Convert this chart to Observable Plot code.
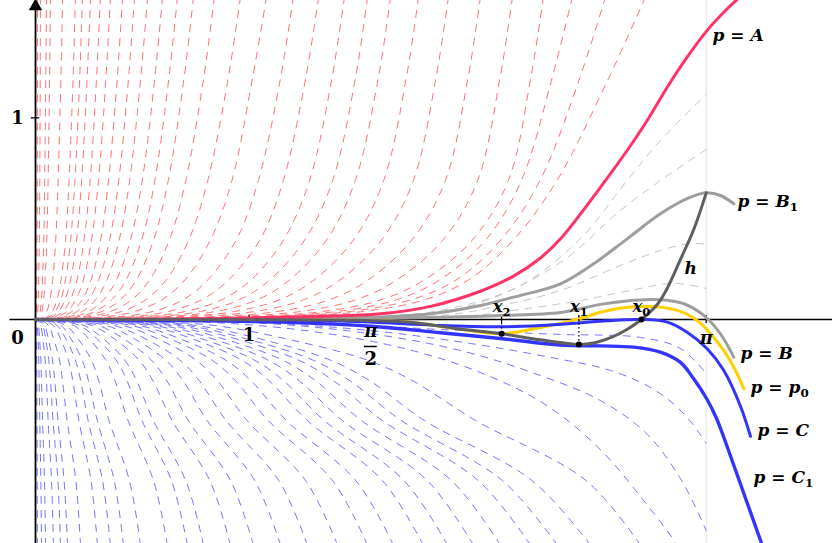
<!DOCTYPE html>
<html>
<head>
<meta charset="utf-8">
<script src="https://cdn.jsdelivr.net/npm/d3@7"></script>
<script src="https://cdn.jsdelivr.net/npm/@observablehq/plot@0.6"></script>
<style>
  html, body { margin: 0; padding: 0; background: #fff; }
  #chart svg { display: block; }
</style>
</head>
<body>
<div id="chart"></div>
<script>
// ---------- data (x in radians, y in function units) ----------
// red dashed family: x reached at each y level
const redLevels = [1.6, 1.2, 0.69, 0.4, 0.2, 0.1, 0.04, 0.01, 0];
const redCurves = [
  [0.009,0.009,0.008,0.007,0.006,0.005,0.004,0.003,0],
  [0.023,0.022,0.020,0.018,0.015,0.013,0.010,0.006,0],
  [0.052,0.048,0.043,0.039,0.033,0.028,0.022,0.014,0],
  [0.070,0.066,0.059,0.053,0.045,0.038,0.030,0.019,0],
  [0.127,0.119,0.106,0.095,0.081,0.068,0.053,0.034,0],
  [0.187,0.176,0.157,0.141,0.120,0.101,0.079,0.051,0],
  [0.220,0.207,0.185,0.165,0.141,0.119,0.092,0.059,0],
  [0.258,0.242,0.216,0.193,0.165,0.139,0.108,0.070,0],
  [0.304,0.286,0.256,0.228,0.195,0.164,0.128,0.082,0],
  [0.351,0.330,0.295,0.263,0.225,0.190,0.148,0.095,0],
  [0.408,0.383,0.342,0.306,0.261,0.220,0.171,0.110,0],
  [0.464,0.436,0.390,0.348,0.297,0.250,0.195,0.125,0],
  [0.525,0.493,0.441,0.393,0.336,0.283,0.220,0.142,0],
  [0.595,0.559,0.500,0.446,0.381,0.321,0.250,0.161,0],
  [0.665,0.625,0.559,0.499,0.426,0.359,0.279,0.180,0],
  [0.740,0.696,0.622,0.555,0.474,0.400,0.311,0.200,0],
  [0.838,0.788,0.704,0.629,0.537,0.453,0.352,0.226,0],
  [0.960,0.903,0.807,0.720,0.615,0.519,0.403,0.259,0],
  [1.082,1.017,0.920,0.822,0.703,0.595,0.465,0.303,0],
  [1.208,1.148,1.044,0.943,0.810,0.695,0.550,0.356,0],
  [1.326,1.266,1.161,1.054,0.908,0.782,0.623,0.404,0],
  [1.447,1.389,1.284,1.165,1.013,0.876,0.702,0.449,0],
  [1.555,1.499,1.392,1.264,1.101,0.959,0.773,0.491,0],
  [1.663,1.606,1.498,1.367,1.194,1.044,0.845,0.540,0],
  [1.794,1.737,1.631,1.493,1.310,1.148,0.933,0.601,0],
  [1.934,1.876,1.770,1.625,1.431,1.261,1.029,0.667,0],
  [2.084,2.026,1.920,1.767,1.563,1.382,1.136,0.740,0],
  [2.234,2.176,2.071,1.913,1.698,1.506,1.244,0.815,0],
  [2.379,2.320,2.215,2.051,1.827,1.625,1.349,0.892,0],
  [2.515,2.420,2.276,2.113,1.899,1.698,1.414,0.943,0],
  [2.670,2.550,2.363,2.184,1.976,1.767,1.476,0.993,0],
  [2.857,2.686,2.443,2.243,2.034,1.829,1.537,1.043,0]
];
// blue dashed family: x reached at each y level
const blueLevels = [-1.12, -0.8, -0.5, -0.3, -0.2, -0.1, -0.03, -0.008, 0];
const blueCurves = [
  [0.009,0.008,0.007,0.006,0.005,0.004,0.003,0.0015,0],
  [0.028,0.025,0.020,0.017,0.015,0.012,0.008,0.004,0],
  [0.047,0.042,0.033,0.028,0.025,0.019,0.014,0.007,0],
  [0.084,0.075,0.059,0.051,0.045,0.035,0.024,0.013,0],
  [0.117,0.105,0.082,0.070,0.062,0.048,0.034,0.019,0],
  [0.150,0.134,0.105,0.090,0.079,0.061,0.043,0.024,0],
  [0.211,0.189,0.148,0.126,0.112,0.086,0.061,0.034,0],
  [0.290,0.260,0.203,0.174,0.154,0.119,0.084,0.046,0],
  [0.351,0.314,0.246,0.211,0.186,0.144,0.102,0.056,0],
  [0.412,0.369,0.289,0.247,0.218,0.169,0.120,0.066,0],
  [0.492,0.440,0.344,0.295,0.261,0.202,0.143,0.079,0],
  [0.618,0.553,0.433,0.371,0.328,0.254,0.179,0.099,0],
  [0.712,0.637,0.498,0.427,0.377,0.292,0.206,0.114,0],
  [0.787,0.704,0.551,0.472,0.417,0.323,0.228,0.126,0],
  [0.913,0.817,0.639,0.548,0.484,0.374,0.265,0.146,0],
  [1.021,0.914,0.715,0.613,0.541,0.419,0.296,0.163,0],
  [1.148,1.027,0.803,0.689,0.608,0.470,0.333,0.184,0],
  [1.274,1.140,0.892,0.764,0.675,0.522,0.369,0.204,0],
  [1.415,1.266,0.990,0.849,0.750,0.580,0.410,0.226,0],
  [1.555,1.392,1.089,0.933,0.824,0.638,0.451,0.249,0],
  [1.677,1.501,1.174,1.006,0.889,0.687,0.486,0.268,0],
  [1.817,1.626,1.272,1.090,0.963,0.745,0.527,0.291,0],
  [1.930,1.727,1.351,1.158,1.023,0.791,0.560,0.309,0],
  [2.052,1.836,1.436,1.231,1.087,0.841,0.595,0.328,0],
  [2.178,1.949,1.525,1.307,1.154,0.893,0.632,0.348,0],
  [2.319,2.075,1.623,1.391,1.229,0.951,0.672,0.371,0],
  [2.445,2.188,1.712,1.467,1.296,1.002,0.709,0.391,0],
  [2.600,2.327,1.820,1.560,1.378,1.066,0.754,0.416,0],
  [2.834,2.580,2.060,1.760,1.550,1.190,0.840,0.460,0]
];
// blue dashed members next to p = C1 and between p = C and p = C1 ([x, y])
const blueNear = [
  [[0,0],[0.75,-0.01],[1.3,-0.06],[1.75,-0.15],[2.1,-0.27],[2.4,-0.43],[2.65,-0.65],[2.85,-0.9],[2.998,-1.111],[3.01,-1.15]],
  [[0,0],[0.913,-0.010],[1.522,-0.064],[1.991,-0.154],[2.365,-0.278],[2.646,-0.402],[2.857,-0.561],[3.021,-0.789],[3.1416,-1.047]],
  [[0,0],[0.960,-0.010],[1.569,-0.055],[2.037,-0.119],[2.412,-0.188],[2.693,-0.253],[2.904,-0.352],[3.044,-0.476],[3.1416,-0.615]],
  [[0,0],[1.241,-0.010],[1.897,-0.050],[2.459,-0.074],[2.834,-0.089],[3.021,-0.144],[3.1416,-0.268]]
];
// gray dashed members between p = A and p = B
const grayCurves = [
  [[0,0],[1.616,0.015],[1.944,0.055],[2.272,0.169],[2.553,0.402],[2.771,0.689],[2.927,0.888],[3.1416,1.116]],
  [[0,0],[1.710,0.015],[2.084,0.084],[2.459,0.283],[2.740,0.541],[2.927,0.689],[3.1416,0.843]],
  [[0,0],[1.897,0.020],[2.178,0.069],[2.459,0.144],[2.740,0.268],[2.927,0.342],[3.068,0.377],[3.1416,0.372]],
  [[0,0],[1.991,0.015],[2.272,0.050],[2.553,0.094],[2.787,0.144],[2.988,0.179],[3.1416,0.154]]
];
// highlighted members
const pA  = [[0,0],[0.773,0.004],[1.148,0.011],[1.616,0.028],[1.850,0.065],[2.084,0.140],[2.239,0.215],[2.365,0.305],[2.459,0.40],[2.670,0.690],[2.771,0.838],[2.865,0.987],[2.959,1.152],[3.052,1.301],[3.146,1.434],[3.240,1.541],[3.30,1.60]];
const pB1 = [[0,0],[1.241,0.005],[1.616,0.012],[1.850,0.028],[2.084,0.069],[2.239,0.111],[2.459,0.177],[2.614,0.276],[2.771,0.400],[2.927,0.524],[3.052,0.599],[3.1416,0.628],[3.208,0.615],[3.271,0.574]];
const pB  = [[0,0],[1.616,0.005],[1.897,0.011],[2.178,0.020],[2.459,0.035],[2.646,0.075],[2.77,0.092],[2.880,0.099],[2.96,0.095],[3.037,0.078],[3.130,0.020],[3.208,-0.071],[3.271,-0.187]];
const pP0 = [[0,0],[1.0,-0.001],[1.429,-0.003],[1.741,-0.013],[1.975,-0.046],[2.183,-0.070],[2.365,-0.040],[2.545,0.003],[2.646,0.036],[2.754,0.058],[2.880,0.064],[3.006,0.045],[3.099,-0.005],[3.162,-0.071],[3.224,-0.154],[3.271,-0.237],[3.318,-0.344]];
const pC  = [[0,0],[1.148,-0.003],[1.429,-0.008],[1.741,-0.022],[1.897,-0.030],[2.183,-0.036],[2.365,-0.030],[2.545,-0.017],[2.678,-0.006],[2.838,0],[2.959,-0.013],[3.052,-0.063],[3.146,-0.145],[3.224,-0.253],[3.302,-0.43],[3.349,-0.580]];
const pC1 = [[0,0],[1.148,-0.013],[1.616,-0.037],[1.897,-0.066],[2.178,-0.094],[2.459,-0.127],[2.646,-0.131],[2.802,-0.137],[2.927,-0.162],[3.021,-0.213],[3.082,-0.293],[3.143,-0.392],[3.190,-0.491],[3.241,-0.635],[3.316,-0.858],[3.396,-1.096],[3.42,-1.17]];
const hCurve = [[0,0],[1.0,-0.001],[1.429,-0.003],[1.741,-0.013],[1.975,-0.046],[2.183,-0.071],[2.365,-0.101],[2.545,-0.124],[2.62,-0.115],[2.70,-0.088],[2.77,-0.050],[2.838,0],[2.912,0.074],[2.956,0.149],[3.021,0.298],[3.083,0.446],[3.1416,0.628]];

// marked points x2, x1, x0 on h
const markNames = ["x_2", "x_1", "x_0"];
const markX = [2.183, 2.545, 2.838];
const markY = [-0.071, -0.124, 0];

// curve labels
const curveLabelText = ["p = A", "p = B_1", "h", "p = B", "p = p_0", "p = C", "p = C_1"];
const curveLabelX = [3.171, 3.288, 3.040, 3.302, 3.349, 3.382, 3.363];
const curveLabelY = [1.409, 0.585, 0.253, -0.169, -0.337, -0.551, -0.784];

// axis ticks
const xTickValues = [1, Math.PI / 2, Math.PI];
const yTickValues = [1];

// ---------- build tables ----------
const redRows = redCurves.flatMap((xs, i) => xs.map((x, j) => ({x, y: redLevels[j], id: i})));
const blueRows = blueCurves.flatMap((xs, i) => xs.map((x, j) => ({x, y: blueLevels[j], id: i})));
const pairs = (arr, id) => arr.map(([x, y]) => ({x, y, id}));
const blueNearRows = blueNear.flatMap((c, i) => pairs(c, i));
const grayRows = grayCurves.flatMap((c, i) => pairs(c, i));
const marks = markNames.map((n, i) => ({n, x: markX[i], y: markY[i]}));
const curveLabels = curveLabelText.map((t, i) => ({t, x: curveLabelX[i], y: curveLabelY[i]}));

const serif = "DejaVu Serif";
const dashed = {x: "x", y: "y", z: "id", curve: "catmull-rom", strokeWidth: 1, strokeDasharray: "7,7", clip: true};
const solid = (data, stroke, w = 3) =>
  Plot.line(pairs(data, 0), {x: "x", y: "y", curve: "catmull-rom", stroke, strokeWidth: w, strokeLinecap: "round", clip: true});

const chart = Plot.plot({
  width: 832,
  height: 543,
  margin: 0,
  x: {domain: [-0.164, 3.733], axis: null},
  y: {domain: [-1.111, 1.582], axis: null},
  style: {background: "#fff", overflow: "hidden"},
  marks: [
    Plot.ruleX([Math.PI], {stroke: "#e4e4e4", strokeWidth: 1}),
    Plot.line(grayRows, {...dashed, stroke: "#c4c4c4"}),
    Plot.line(blueRows, {...dashed, stroke: "#7373ff"}),
    Plot.line(blueNearRows, {...dashed, stroke: "#7373ff"}),
    Plot.line(redRows, {...dashed, stroke: "#ff7070"}),
    // axes
    Plot.ruleY([0], {x1: -0.12, x2: 3.733, stroke: "#000", strokeWidth: 1.6}),
    Plot.ruleX([0], {y1: -1.111, y2: 1.54, stroke: "#000", strokeWidth: 1.8}),
    Plot.dot([0], {x: 0, y: 1.553, symbol: "triangle", r: 5, fill: "#000", stroke: null}),
    Plot.ruleX(xTickValues, {y1: -0.02, y2: 0.02, stroke: "#000", strokeWidth: 1.3}),
    Plot.ruleX(markX.slice(0, 2), {y1: -0.02, y2: 0.02, stroke: "#000", strokeWidth: 1.3}),
    Plot.ruleY(yTickValues, {x1: -0.02, x2: 0.02, stroke: "#000", strokeWidth: 1.3}),
    // highlighted curves
    solid(pB1, "#9e9e9e"),
    solid(pB, "#9e9e9e"),
    solid(pP0, "#ffd000"),
    solid(pC1, "#3333ff", 3.4),
    solid(pC, "#3333ff"),
    solid(pA, "#ff3366"),
    solid(hCurve, "#5f5f5f"),
    // dotted guides and marked points
    Plot.ruleX(marks.slice(0, 2), {x: "x", y1: 0, y2: "y", stroke: "#000", strokeWidth: 1.2, strokeDasharray: "1.5,2.5"}),
    Plot.dot(marks, {x: "x", y: "y", r: 3, fill: "#000", stroke: null}),
    Plot.text(marks, {x: "x", y: 0, text: "n", dy: -13, fontFamily: serif, fontStyle: "italic", fontWeight: "bold", fontSize: 16.5, fill: "#000"}),
    // tick labels
    Plot.text(["0"], {x: -0.084, y: 0, text: d => d, dy: 19, fontFamily: serif, fontWeight: "bold", fontSize: 18, fill: "#000"}),
    Plot.text(yTickValues, {x: -0.084, y: d => d, text: d => String(d), fontFamily: serif, fontWeight: "bold", fontSize: 18, fill: "#000"}),
    Plot.text([1], {x: d => d, y: 0, text: d => String(d), dy: 16, fontFamily: serif, fontWeight: "bold", fontSize: 18, fill: "#000"}),
    Plot.text([Math.PI / 2], {x: d => d, y: 0, text: () => "π", dy: 12, fontFamily: serif, fontStyle: "italic", fontWeight: "bold", fontSize: 18, fill: "#000"}),
    Plot.ruleY([0], {x1: Math.PI / 2 - 0.03, x2: Math.PI / 2 + 0.03, dy: 27, stroke: "#000", strokeWidth: 1.5}),
    Plot.text([Math.PI / 2], {x: d => d, y: 0, text: () => "2", dy: 40, fontFamily: serif, fontWeight: "bold", fontSize: 18, fill: "#000"}),
    Plot.text([Math.PI], {x: d => d, y: 0, text: () => "π", dy: 19, fontFamily: serif, fontStyle: "italic", fontWeight: "bold", fontSize: 18, fill: "#000"}),
    // curve labels
    Plot.text(curveLabels, {x: "x", y: "y", text: "t", textAnchor: "start", fontFamily: serif, fontStyle: "italic", fontWeight: "bold", fontSize: 17, fill: "#000"})
  ]
});

// subscripts: "a_b" -> a with subscript b
chart.querySelectorAll("text").forEach(t => {
  const s = t.textContent;
  if (s.includes("_")) {
    const [a, b] = s.split("_");
    const ns = "http://www.w3.org/2000/svg";
    t.textContent = "";
    const t1 = document.createElementNS(ns, "tspan");
    t1.textContent = a;
    const t2 = document.createElementNS(ns, "tspan");
    t2.textContent = b;
    t2.setAttribute("font-size", "0.7em");
    t2.setAttribute("font-style", "normal");
    t2.setAttribute("dy", "0.35em");
    t.append(t1, t2);
  }
});

document.getElementById("chart").append(chart);
</script>
</body>
</html>
